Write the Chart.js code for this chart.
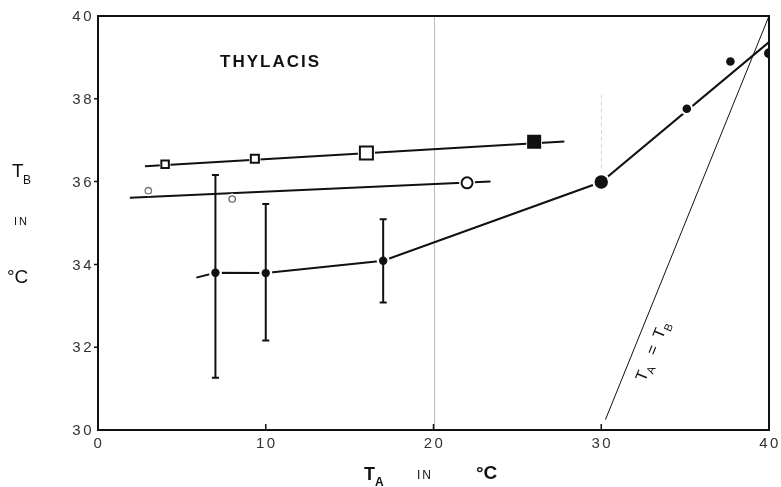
<!DOCTYPE html>
<html>
<head>
<meta charset="utf-8">
<script src="https://cdn.jsdelivr.net/npm/chart.js@4.4.1/dist/chart.umd.min.js"></script>
<style>
  html, body { margin: 0; padding: 0; background: #fff; }
  #wrap { width: 781px; height: 487px; }
</style>
</head>
<body>
<div id="wrap"><canvas id="chartjs" width="781" height="487"></canvas></div>
<script>
// T_A (ambient) vs T_B (body) for Thylacis
// open squares series
const squareTa = [4, 9.35, 16, 26]
const squareTb = [36.42, 36.55, 36.69, 36.96]
const squareLineTa = [2.8, 27.8]
const squareLineTb = [36.37, 36.97]

// open circles series
const circleTa = [3, 8, 22]
const circleTb = [35.78, 35.58, 35.97]
const circleLineTa = [1.9, 23.4]
const circleLineTb = [35.61, 36.0]

// filled circles (error bars on the first three)
const dotTa = [7, 10, 17, 30, 35.1, 37.7, 40]
const dotTb = [33.8, 33.79, 34.09, 35.99, 37.76, 38.9, 39.1]
const dotErrHigh = [36.16, 35.46, 35.09, null, null, null, null]
const dotErrLow = [31.26, 32.16, 33.08, null, null, null, null]
const dotLineTa = [5.86, 7, 10, 17, 30, 40]
const dotLineTb = [33.68, 33.8, 33.79, 34.09, 35.99, 39.37]

// T_A = T_B line
const equalTa = [30.25, 40]
const equalTb = [30.25, 40]

const xTicks = [0, 10, 20, 30, 40]
const yTicks = [30, 32, 34, 36, 38, 40]

function pts(xs, ys) {
  return xs.map((x, i) => ({ x: x, y: ys[i] }))
}

const INK = '#111'

var annot = {
  id: 'annot',
  beforeDatasetsDraw(chart) {
    // faint scan lines at 20 and 30
    const ctx = chart.ctx
    const xs = chart.scales.x, ys = chart.scales.y
    const a = chart.chartArea
    ctx.save()
    ctx.lineWidth = 1
    ctx.strokeStyle = '#bdbdbd'
    let px = Math.round(xs.getPixelForValue(20)) + 0.5
    ctx.beginPath(); ctx.moveTo(px, a.top); ctx.lineTo(px, a.bottom); ctx.stroke()
    ctx.strokeStyle = '#d4d4d4'
    ctx.setLineDash([4, 3])
    px = Math.round(xs.getPixelForValue(30)) + 0.5
    ctx.beginPath(); ctx.moveTo(px, ys.getPixelForValue(38.1)); ctx.lineTo(px, ys.getPixelForValue(36.3)); ctx.stroke()
    ctx.restore()
  },
  afterDatasetsDraw(chart) {
    const ctx = chart.ctx
    const xs = chart.scales.x, ys = chart.scales.y
    const a = chart.chartArea
    ctx.save()

    // error bars
    ctx.strokeStyle = INK
    ctx.lineWidth = 2
    dotTa.forEach(function (t, i) {
      if (dotErrHigh[i] == null) return
      const px = xs.getPixelForValue(t)
      const top = ys.getPixelForValue(dotErrHigh[i])
      const bot = ys.getPixelForValue(dotErrLow[i])
      ctx.beginPath()
      ctx.moveTo(px, top); ctx.lineTo(px, bot)
      ctx.moveTo(px - 3.5, top); ctx.lineTo(px + 3.5, top)
      ctx.moveTo(px - 3.5, bot); ctx.lineTo(px + 3.5, bot)
      ctx.stroke()
    })

    // frame
    ctx.lineWidth = 2
    ctx.strokeRect(a.left, a.top, a.right - a.left, a.bottom - a.top)

    // ticks: y outward, x inward
    ctx.lineWidth = 1.5
    ctx.beginPath()
    yTicks.slice(1, -1).forEach(function (v) {
      const py = ys.getPixelForValue(v)
      ctx.moveTo(a.left - 4, py); ctx.lineTo(a.left, py)
    })
    xTicks.slice(1, -1).forEach(function (v) {
      const px = xs.getPixelForValue(v)
      ctx.moveTo(px, a.bottom); ctx.lineTo(px, a.bottom - 6)
    })
    ctx.stroke()

    // tick labels
    ctx.fillStyle = '#333'
    ctx.font = '15px "Liberation Sans"'
    ctx.letterSpacing = '2.5px'
    ctx.textBaseline = 'middle'
    ctx.textAlign = 'right'
    yTicks.forEach(function (v) {
      ctx.fillText(String(v), a.left - 4, ys.getPixelForValue(v) + 1)
    })
    ctx.textAlign = 'center'
    xTicks.forEach(function (v) {
      ctx.fillText(String(v), xs.getPixelForValue(v) + 1, a.bottom + 14)
    })
    ctx.letterSpacing = '0px'

    // texts
    ctx.fillStyle = INK
    ctx.textBaseline = 'alphabetic'
    ctx.textAlign = 'left'
    ctx.letterSpacing = '2px'
    ctx.font = 'bold 17px "Liberation Sans"'
    ctx.fillText('THYLACIS', 220, 67)
    ctx.letterSpacing = '0px'

    // y-axis title
    ctx.font = '19px "Liberation Sans"'
    ctx.fillText('T', 12, 177)
    ctx.font = '12px "Liberation Sans"'
    ctx.fillText('B', 23, 184)
    ctx.letterSpacing = '2px'
    ctx.font = '11px "Liberation Sans"'
    ctx.fillText('IN', 14, 225)
    ctx.letterSpacing = '0px'
    ctx.font = '19px "Liberation Sans"'
    ctx.fillText('\u00b0C', 7, 283)

    // x-axis title
    ctx.font = 'bold 18px "Liberation Sans"'
    ctx.fillText('T', 364, 480)
    ctx.font = 'bold 12px "Liberation Sans"'
    ctx.fillText('A', 375, 486)
    ctx.letterSpacing = '2px'
    ctx.font = '12px "Liberation Sans"'
    ctx.fillText('IN', 417, 479)
    ctx.letterSpacing = '0px'
    ctx.font = 'bold 19px "Liberation Sans"'
    ctx.fillText('\u00b0C', 476, 479)

    // T_A = T_B label along the identity line
    const p0x = xs.getPixelForValue(30), p0y = ys.getPixelForValue(30)
    const p1x = xs.getPixelForValue(40), p1y = ys.getPixelForValue(40)
    const ang = Math.atan2(p1y - p0y, p1x - p0x)
    ctx.translate(653, 351)
    ctx.rotate(ang)
    ctx.textBaseline = 'middle'
    ctx.font = '16px "Liberation Sans"'
    ctx.fillText('T', -32, 0)
    ctx.font = '11px "Liberation Sans"'
    ctx.fillText('A', -22, 6)
    ctx.font = '16px "Liberation Sans"'
    ctx.fillText('=', -4, 0)
    ctx.fillText('T', 14, 0)
    ctx.font = '11px "Liberation Sans"'
    ctx.fillText('B', 24, 6)

    ctx.restore()
  }
}

function drawChart() {
  const lineStyle = { showLine: true, borderColor: INK, borderWidth: 2, pointRadius: 0, fill: false, tension: 0, order: 3 }
  const halo = { showLine: false, backgroundColor: '#fff', borderWidth: 0, pointBorderWidth: 0, order: 2 }

  var tempData = {
    type: 'scatter',
    data: {
      datasets: [
        Object.assign({ data: pts(squareLineTa, squareLineTb) }, lineStyle),
        Object.assign({ data: pts(circleLineTa, circleLineTb) }, lineStyle),
        Object.assign({ data: pts(dotLineTa, dotLineTb) }, lineStyle),
        Object.assign({}, lineStyle, { data: pts(equalTa, equalTb), borderWidth: 1 }),

        Object.assign({ data: pts(squareTa, squareTb), pointStyle: 'rect', pointRadius: [7.5, 8, 12, 11], pointBackgroundColor: '#fff' }, halo),
        Object.assign({ data: pts(circleTa, circleTb), pointStyle: 'circle', pointRadius: [5.5, 5.5, 8], pointBackgroundColor: '#fff' }, halo),
        Object.assign({ data: pts(dotTa, dotTb), pointStyle: 'circle', pointRadius: [6.5, 6.5, 6.5, 9, 6.5, 0, 0], pointBackgroundColor: '#fff' }, halo),

        {
          data: pts(squareTa, squareTb), showLine: false, pointStyle: 'rect',
          pointRadius: [5.3, 5.7, 9.2, 8.5],
          pointBackgroundColor: ['#fff', '#fff', '#fff', INK],
          pointBorderColor: INK, pointBorderWidth: 2, order: 1
        },
        {
          data: pts(circleTa, circleTb), showLine: false, pointStyle: 'circle',
          pointRadius: [3.2, 3.2, 5.5],
          pointBackgroundColor: '#fff',
          pointBorderColor: ['#777', '#666', INK], pointBorderWidth: [1.3, 1.3, 2], order: 1
        },
        {
          data: pts(dotTa, dotTb), showLine: false, pointStyle: 'circle',
          pointRadius: [4.2, 4.2, 4.2, 6.7, 4.3, 4.3, 5],
          pointBackgroundColor: INK, pointBorderColor: INK, pointBorderWidth: 0, order: 1
        }
      ]
    },
    options: {
      responsive: false,
      animation: false,
      events: [],
      layout: { padding: { left: 0, top: 16, right: 7, bottom: 0 } },
      plugins: { legend: { display: false }, tooltip: { enabled: false } },
      scales: {
        x: {
          type: 'linear', min: 0, max: 40,
          afterBuildTicks: s => { s.ticks = xTicks.map(v => ({ value: v })) },
          afterFit: s => { s.height = 57 },
          ticks: { display: false },
          border: { display: false },
          grid: { display: false }
        },
        y: {
          type: 'linear', min: 30, max: 40,
          afterBuildTicks: s => { s.ticks = yTicks.map(v => ({ value: v })) },
          afterFit: s => { s.width = 98 },
          ticks: { display: false },
          border: { display: false },
          grid: { display: false }
        }
      }
    },
    plugins: [annot]
  }

  var ctx = document.getElementById('chartjs').getContext('2d')
  var myChart = new Chart(ctx, tempData)
}

window.onload = function () {
  drawChart()
}
</script>
</body>
</html>
